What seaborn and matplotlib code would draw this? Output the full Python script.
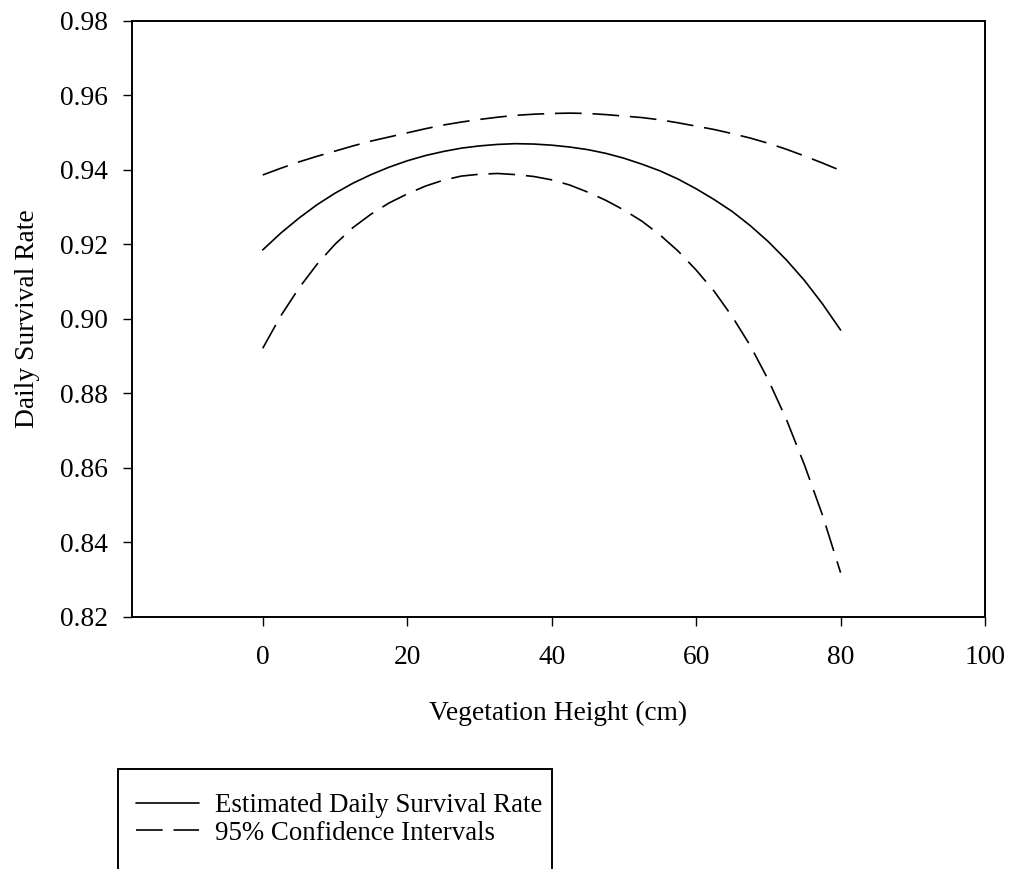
import matplotlib
matplotlib.use("Agg")
import matplotlib.pyplot as plt
from matplotlib.lines import Line2D
from matplotlib.patches import Rectangle
import pandas as pd
import seaborn as sns

# Vegetation height (cm) at which daily survival rate was evaluated
height_cm = [0, 2.5, 5, 7.5, 10, 12.5, 15, 17.5, 20, 22.5, 25, 27.5, 30, 32.5,
             35, 37.5, 40, 42.5, 45, 47.5, 50, 52.5, 55, 57.5, 60, 62.5, 65,
             67.5, 70, 72.5, 75, 77.5, 80]

# Estimated daily survival rate
dsr_estimate = [0.9185, 0.9230, 0.9270, 0.9306, 0.9337, 0.9364, 0.9387, 0.9407,
                0.9424, 0.9438, 0.9449, 0.9458, 0.9464, 0.9468, 0.9470, 0.9469,
                0.9466, 0.9461, 0.9454, 0.9444, 0.9431, 0.9415, 0.9397, 0.9375,
                0.9349, 0.9320, 0.9288, 0.9250, 0.9207, 0.9158, 0.9103, 0.9040,
                0.8970]

# Lower and upper 95% confidence limits
dsr_lower = [0.8921, 0.9008, 0.9082, 0.9146, 0.9200, 0.9245, 0.9281, 0.9311,
             0.9335, 0.9356, 0.9372, 0.9383, 0.9388, 0.9390, 0.9387, 0.9382,
             0.9373, 0.9359, 0.9340, 0.9318, 0.9292, 0.9262, 0.9225, 0.9182,
             0.9131, 0.9074, 0.9006, 0.8928, 0.8836, 0.8730, 0.8608, 0.8473,
             0.8319]
dsr_upper = [0.9386, 0.9404, 0.9421, 0.9436, 0.9450, 0.9464, 0.9477, 0.9488,
             0.9499, 0.9510, 0.9520, 0.9528, 0.9535, 0.9541, 0.9546, 0.9549,
             0.9551, 0.9552, 0.9551, 0.9548, 0.9544, 0.9540, 0.9534, 0.9526,
             0.9517, 0.9508, 0.9497, 0.9485, 0.9471, 0.9455, 0.9437, 0.9418,
             0.9398]

x_ticks = [0, 20, 40, 60, 80, 100]
y_ticks = [0.82, 0.84, 0.86, 0.88, 0.90, 0.92, 0.94, 0.96, 0.98]

legend_labels = ["Estimated Daily Survival Rate", "95% Confidence Intervals"]

sns.set_theme(style="ticks")
plt.rcParams["font.family"] = ["Liberation Serif", "DejaVu Serif"]
plt.rcParams["axes.linewidth"] = 1.4
plt.rcParams["text.color"] = "black"
plt.rcParams["axes.labelcolor"] = "black"
plt.rcParams["xtick.color"] = "black"
plt.rcParams["ytick.color"] = "black"

FS = 19.8
LEG_FS = 19.4
DASH = (0, (16, 6.5))

df = pd.DataFrame({
    "height": height_cm,
    "estimate": dsr_estimate,
    "lower": dsr_lower,
    "upper": dsr_upper,
})

fig = plt.figure(figsize=(10.13, 8.69), dpi=100)
ax = fig.add_axes([0.1303, 0.29, 0.8421, 0.6862])

sns.lineplot(data=df, x="height", y="estimate", ax=ax, color="black",
             lw=1.2, estimator=None, legend=False)
sns.lineplot(data=df, x="height", y="lower", ax=ax, color="black",
             lw=1.2, linestyle=DASH, estimator=None, legend=False)
sns.lineplot(data=df, x="height", y="upper", ax=ax, color="black",
             lw=1.2, linestyle=DASH, estimator=None, legend=False)

ax.set_xlim(-18.1, 100)
ax.set_ylim(0.82, 0.98)
ax.set_xticks(x_ticks)
ax.set_yticks(y_ticks)
ax.set_yticklabels([f"{v:.2f}" for v in y_ticks])
ax.tick_params(axis="both", labelsize=FS, direction="out", length=6.5,
               width=1.0, color="black", labelcolor="black",
               top=False, right=False)
ax.tick_params(axis="x", pad=14)
ax.tick_params(axis="y", pad=11)
for side in ["top", "right", "bottom", "left"]:
    ax.spines[side].set_visible(True)
    ax.spines[side].set_color("black")
    ax.spines[side].set_linewidth(1.4)

ax.set_xlabel("Vegetation Height (cm)", fontsize=FS, labelpad=22,
              color="black")
ax.set_ylabel("Daily Survival Rate", fontsize=FS, labelpad=14,
              color="black")

handles = [
    Line2D([], [], color="black", lw=1.2),
    Line2D([], [], color="black", lw=1.2, linestyle=DASH),
]
leg = fig.legend(handles, legend_labels, loc="upper left",
                 bbox_to_anchor=(136 / 1013, 1 - 793 / 869),
                 frameon=False, fontsize=LEG_FS, handlelength=2.35,
                 handletextpad=0.6, labelspacing=0.1, borderpad=0,
                 borderaxespad=0)
for t in leg.get_texts():
    t.set_color("black")

# open-bottomed box around the key, running off the lower edge
fig.add_artist(Rectangle((118 / 1013, -0.05), (552 - 118) / 1013,
                         1 - 769 / 869 + 0.05, transform=fig.transFigure,
                         fill=False, edgecolor="black", lw=1.4))

fig.savefig("out.png", dpi=100, facecolor="white")
